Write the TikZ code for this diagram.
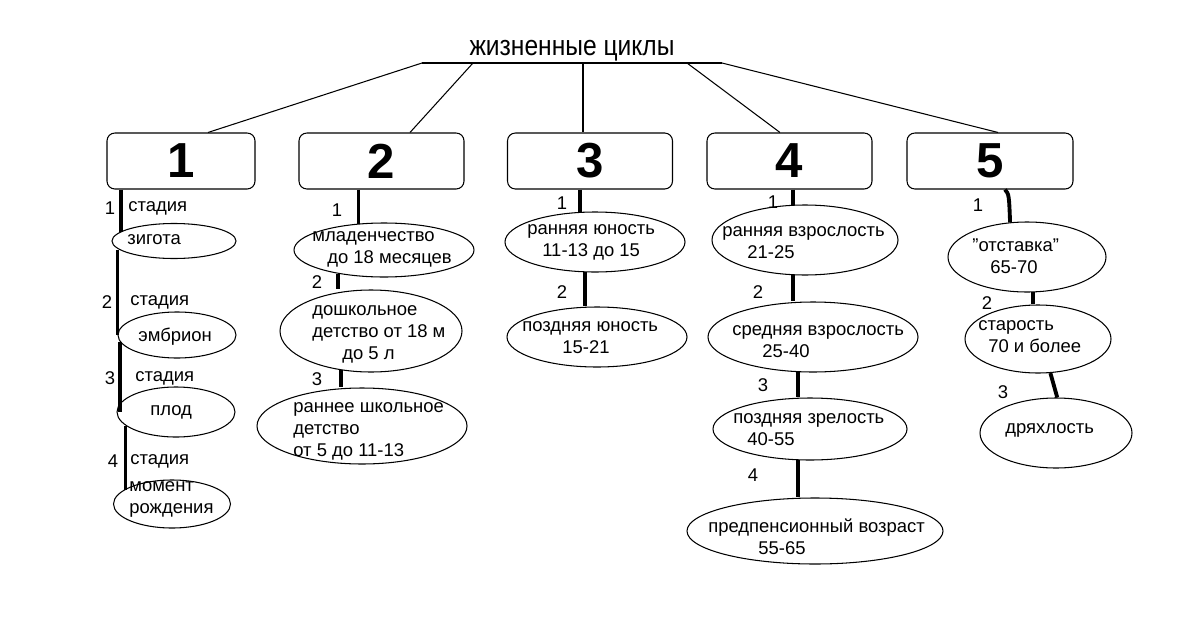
\documentclass[tikz,border=0pt]{standalone}
\usepackage{fontspec}
\setmainfont{Liberation Sans}
\usetikzlibrary{shapes.geometric}

\tikzset{
  cycbox/.style={draw, rounded corners=4.5pt, line width=0.6pt, minimum width=#1*0.02cm,
    minimum height=1.12cm, font=\fontsize{28}{30}\selectfont\bfseries},
  stage/.style 2 args={ellipse, draw, line width=0.6pt, inner sep=0pt,
    minimum width=#1*0.02cm, minimum height=#2*0.02cm},
  txt/.style={inner sep=0pt, anchor=west, align=left, font=\fontsize{10.5}{12.5}\selectfont},
  num/.style={inner sep=0pt, font=\fontsize{10.5}{12.5}\selectfont},
  stem/.style={line width=2.2pt},
  branch/.style={line width=0.6pt}
}

\begin{document}
\begin{tikzpicture}[x=0.02cm, y=-0.02cm]
    \useasboundingbox (0,0) rectangle (1200,639);

    % Title and bar
    \node[inner sep=0pt, font=\fontsize{14}{16}\selectfont] (title) at (572,51)
        {\scalebox{1}[1.15]{жизненные циклы}};
    \coordinate (barL) at (422,63);
    \coordinate (br2) at (473,63);
    \coordinate (br3) at (583,63);
    \coordinate (br4) at (687,63);
    \coordinate (barR) at (722,63);
    \draw[branch] (barL) -- (barR);

    % Cycle boxes
    \node[cycbox=148] (b1) at (181,161) {1};
    \node[cycbox=165] (b2) at (381.5,161) {2};
    \node[cycbox=165] (b3) at (590,161) {3};
    \node[cycbox=165] (b4) at (789.5,161) {4};
    \node[cycbox=166] (b5) at (990,161) {5};

    \draw[branch] (barL) -- ([xshift=0.54cm]b1.north);
    \draw[branch] (br2) -- ([xshift=0.57cm]b2.north);
    \draw[branch] (br3) -- (br3 |- b3.north);
    \draw[branch] (br4) -- ([xshift=-0.19cm]b4.north);
    \draw[branch] (barR) -- ([xshift=0.16cm]b5.north);

    % Column 1
    \node[stage={124}{35}] (e11) at (174,241) {};
    \node[stage={118}{46}] (e12) at (177,335) {};
    \node[stage={118}{50}] (e13) at (176,412) {};
    \node[stage={117}{48}] (e14) at (172,504) {};
    \draw[stem] (b1.south -| e11.170) -- (e11.170);
    \draw[stem] (e11.190 -| e12.west) -- (e12.west);
    \draw[stem] (e12.187) -- (e12.187 |- e13.west);
    \draw[stem] (e13.195) -- (e13.195 |- e14.164);

    % Column 2
    \node[stage={180}{54}] (e21) at (384,250) {};
    \node[stage={182}{82}] (e22) at (371,331) {};
    \node[stage={210}{76}] (e23) at (362,426) {};
    \draw[stem] (b2.south -| e21.134) -- (e21.134);
    \draw[stem] (e21.207) -- (e21.207 |- e22.north);
    \draw[stem] (e22.233) -- (e22.233 |- e23.north);

    % Column 3
    \node[stage={180}{60}] (e31) at (595,242) {};
    \node[stage={180}{60}] (e32) at (597,337) {};
    \draw[stem] (b3.south -| e31.117) -- (e31.117);
    \draw[stem] (e31.251) -- (e31.251 |- e32.north);

    % Column 4
    \node[stage={186}{70}] (e41) at (805,240) {};
    \node[stage={210}{70}] (e42) at (813,337) {};
    \node[stage={194}{62}] (e43) at (810,429) {};
    \node[stage={256}{66}] (e44) at (815,531) {};
    \draw[stem] (b4.south -| e41.109) -- (e41.109);
    \draw[stem] (e41.251) -- (e41.251 |- e42.north);
    \draw[stem] (e42.247) -- (e42.247 |- e43.north);
    \draw[stem] (e43.249) -- (e43.249 |- e44.north);

    % Column 5
    \node[stage={158}{70}] (e51) at (1027,257) {};
    \node[stage={146}{68}] (e52) at (1038,339) {};
    \node[stage={152}{70}] (e53) at (1056,433) {};
    \draw[stem] ([xshift=0.3cm]b5.south) .. controls +(0.08cm,-0.1cm) .. (e51.116);
    \draw[stem] (e51.280) -- (e51.280 |- e52.north);
    \draw[stem] (e52.290) -- (e53.88);

    % Texts, column 1
    \node[num] (n11) at (110,208) {1};
    \node[txt] (s11) at (128,208) {стадия};
    \node[num] (n12) at (107,302) {2};
    \node[txt] (s12) at (130,302) {стадия};
    \node[num] (n13) at (110,378) {3};
    \node[txt] (s13) at (135,378) {стадия};
    \node[num] (n14) at (113,461) {4};
    \node[txt] (s14) at (130,461) {стадия};
    \node[txt] (t11) at (127,240) {зигота};
    \node[txt] (t12) at (138,337) {эмбрион};
    \node[txt] (t13) at (150,412) {плод};
    \node[txt] (t14) at (129,499) {момент\\рождения};

    % Texts, column 2
    \node[num] (n21) at (337,210) {1};
    \node[num] (n22) at (317,282) {2};
    \node[num] (n23) at (317,379) {3};
    \node[txt] (t21) at (312,249.5) {младенчество\\\hspace*{0.3cm}до 18 месяцев};
    \node[txt] (t22) at (312,334) {дошкольное\\детство от 18 м\\\hspace*{0.6cm}до 5 л};
    \node[txt] (t23) at (293,431.5) {раннее школьное\\детство\\от 5 до 11-13};

    % Texts, column 3
    \node[num] (n31) at (562,203) {1};
    \node[num] (n32) at (562,292) {2};
    \node[txt] (t31) at (527,242.5) {ранняя юность\\\hspace*{0.3cm}11-13 до 15};
    \node[txt] (t32) at (522,337.5) {поздняя юность\\\hspace*{0.8cm}15-21};

    % Texts, column 4
    \node[num] (n41) at (773,202) {1};
    \node[num] (n42) at (758,292) {2};
    \node[num] (n43) at (763,385) {3};
    \node[num] (n44) at (753,475) {4};
    \node[txt] (t41) at (722,243) {ранняя взрослость\\\hspace*{0.5cm}21-25};
    \node[txt] (t42) at (732,342) {средняя взрослость\\\hspace*{0.6cm}25-40};
    \node[txt] (t43) at (733,430) {поздняя зрелость\\\hspace*{0.28cm}40-55};
    \node[txt] (t44) at (708,537) {предпенсионный возраст\\\hspace*{1cm}55-65};

    % Texts, column 5
    \node[num] (n51) at (978,205) {1};
    \node[num] (n52) at (987,303) {2};
    \node[num] (n53) at (1003,392) {3};
    \node[txt] (t51) at (972,256) {\char34 отставка\char34\\\hspace*{0.36cm}65-70};
    \node[txt] (t52) at (978,337) {старость\\\hspace*{0.2cm}70 и более};
    \node[txt] (t53) at (1005,430) {дряхлость};
\end{tikzpicture}
\end{document}
